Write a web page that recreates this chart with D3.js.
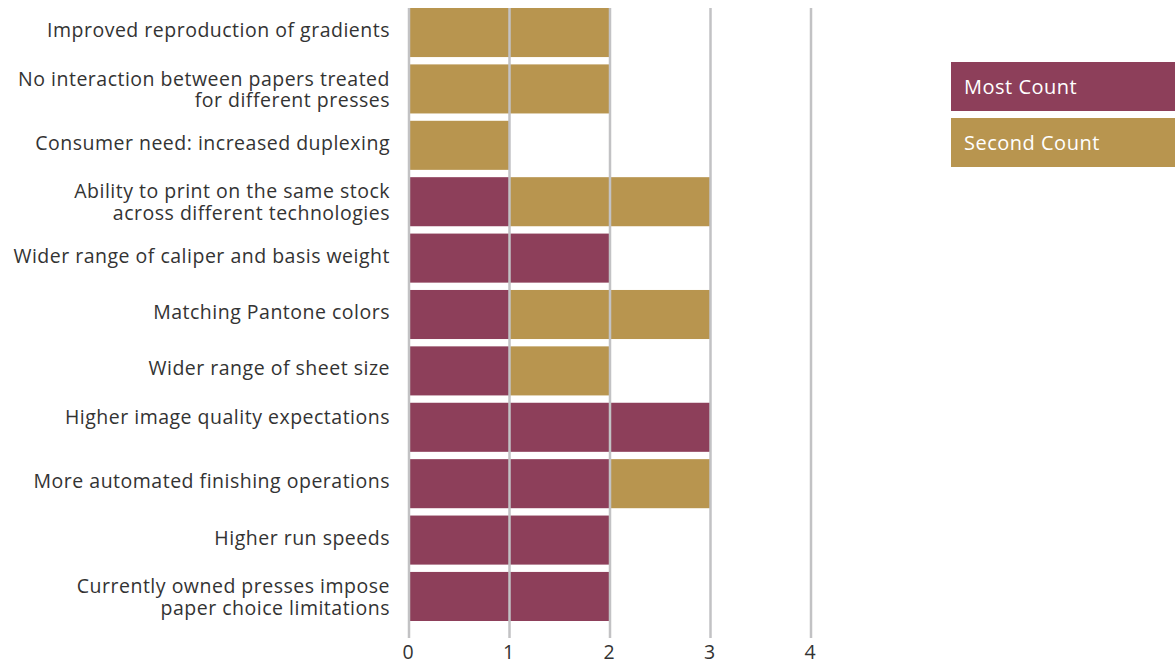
<!DOCTYPE html>
<html><head><meta charset="utf-8">
<script src="https://cdn.jsdelivr.net/npm/d3@7"></script>
<style>body{margin:0;background:#fff;} svg{display:block;font-family:"Open Sans","Noto Sans",sans-serif;}</style>
</head><body>
<svg id="c" width="1175" height="664"></svg>
<script>
const categories = [
  ["Improved reproduction of gradients"],
  ["No interaction between papers treated","for different presses"],
  ["Consumer need: increased duplexing"],
  ["Ability to print on the same stock","across different technologies"],
  ["Wider range of caliper and basis weight"],
  ["Matching Pantone colors"],
  ["Wider range of sheet size"],
  ["Higher image quality expectations",""],
  ["More automated finishing operations"],
  ["Higher run speeds"],
  ["Currently owned presses impose","paper choice limitations"]
];
const mostCount   = [0,0,0,1,2,1,1,3,2,2,2];
const secondCount = [2,2,1,2,0,2,1,0,1,0,0];
const seriesNames = ["Most Count","Second Count"];
const colors = ["#8d3f5a","#b8954f"];
const xTicks = [0,1,2,3,4];

const svg = d3.select("#c");
const x = d3.scaleLinear().domain([0,4]).range([409,811]);
const y = d3.scaleBand().domain(d3.range(categories.length)).range([8,621]).paddingInner(0.13).paddingOuter(0);

const rows = categories.map((c,i)=>({i, most:mostCount[i], second:secondCount[i]}));
const stack = d3.stack().keys(["most","second"])(rows);

stack.forEach((layer,k)=>{
  svg.append("g").selectAll("rect").data(layer).join("rect")
    .attr("x", d=>x(d[0])).attr("width", d=>x(d[1])-x(d[0]))
    .attr("y", d=>y(d.data.i)).attr("height", y.bandwidth())
    .attr("fill", colors[k]);
});

// gridlines on top
svg.append("g").selectAll("line").data(xTicks).join("line")
  .attr("x1", d=>x(d)).attr("x2", d=>x(d))
  .attr("y1", 8).attr("y2", 638)
  .attr("stroke", "#c2c2c4").attr("stroke-width", 2.5);

svg.append("g").selectAll("text").data(xTicks).join("text")
  .attr("x", d=>x(d)-1).attr("y", 659)
  .attr("text-anchor","middle").attr("font-size",19.5).attr("fill","#333")
  .text(d=>d);

// category labels
const lab = svg.append("g").selectAll("text").data(categories).join("text")
  .attr("text-anchor","end").attr("font-size",19.5).attr("letter-spacing",0.5).attr("fill","#333")
  .attr("transform",(d,i)=>`translate(390,${y(i)+y.bandwidth()/2})`);
lab.each(function(d){
  const t = d3.select(this);
  const n = d.length;
  d.forEach((line,j)=>{
    t.append("tspan").attr("x",0).attr("y",(j-(n-1)/2)*21.5 + (n>1?7.5:4.5)).text(line);
  });
});

// legend
const lg = svg.append("g");
seriesNames.forEach((s,k)=>{
  lg.append("rect").attr("x",951).attr("y",62+k*56).attr("width",224).attr("height",49).attr("fill",colors[k]);
  lg.append("text").attr("x",964).attr("y",62+k*56+32).attr("font-size",20).attr("letter-spacing",0.5).attr("fill","#fff").text(s);
});
</script>
</body></html>
